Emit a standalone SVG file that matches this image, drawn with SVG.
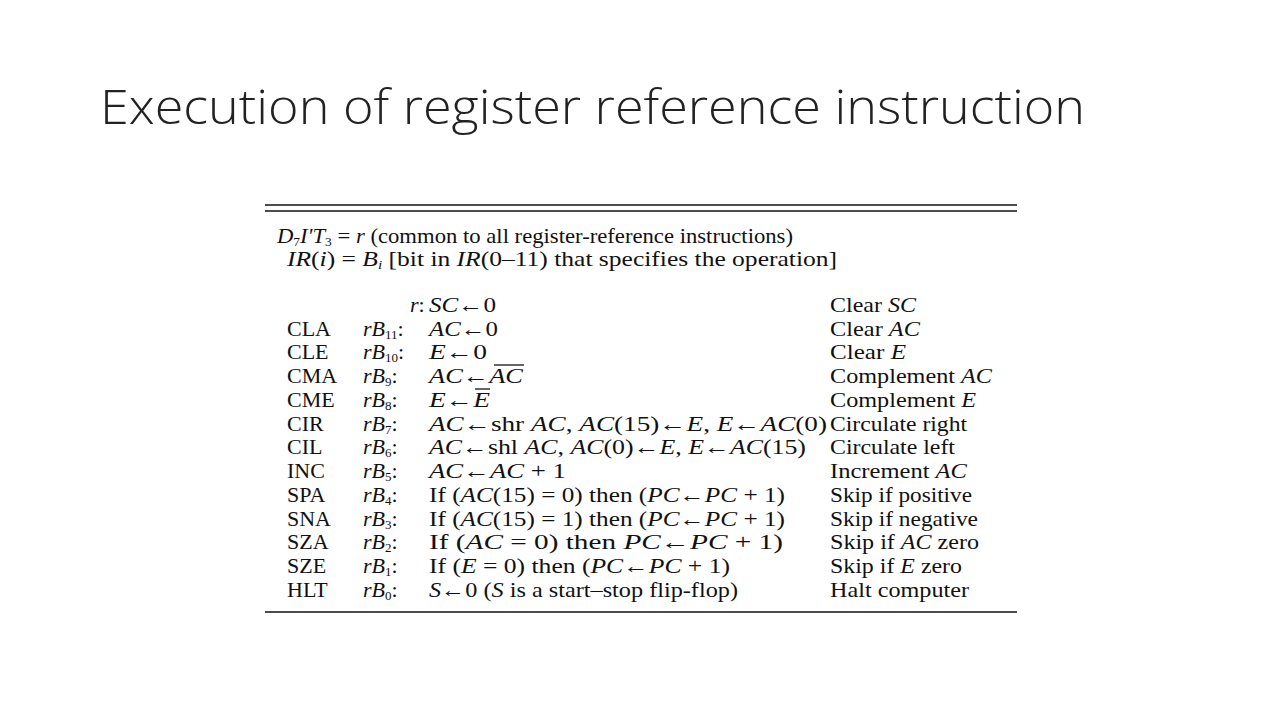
<svg xmlns="http://www.w3.org/2000/svg" width="1280" height="720" viewBox="0 0 1280 720">
<style>
.t{font-family:"Liberation Serif","Times New Roman",serif;font-size:22px;fill:#111}
.t text{}
.i{font-style:italic}
.s{font-size:13px}
.title{font-family:"Open Sans","Liberation Sans",sans-serif;font-weight:300;font-size:48px;fill:#222}
line{stroke:#111;stroke-width:1.6}
</style>
<rect width="1280" height="720" fill="#fff"/>
<text class="title" x="100" y="124" textLength="985" lengthAdjust="spacingAndGlyphs">Execution of register reference instruction</text>
<g id="rules">
<line x1="265" y1="205" x2="1017" y2="205"/>
<line x1="265" y1="211" x2="1017" y2="211"/>
<line x1="265" y1="612" x2="1017" y2="612"/>
</g>
<g id="header" class="t">
<text x="277" y="243" textLength="516" lengthAdjust="spacingAndGlyphs"><tspan class="i">D</tspan><tspan class="s" dy="3">7</tspan><tspan class="i" dy="-3">I'T</tspan><tspan class="s" dy="3">3</tspan><tspan dy="-3"> = </tspan><tspan class="i">r</tspan> (common to all register-reference instructions)</text>
<text x="287" y="266" textLength="550" lengthAdjust="spacingAndGlyphs"><tspan class="i">IR</tspan>(<tspan class="i">i</tspan>) = <tspan class="i">B</tspan><tspan class="s i" dy="3">i</tspan><tspan dy="-3"> [bit in </tspan><tspan class="i">IR</tspan>(0–11) that specifies the operation]</text>
</g>
<g id="col-mnemonic" class="t">
<text x="287" y="336">CLA</text><text x="287" y="359">CLE</text><text x="287" y="383">CMA</text><text x="287" y="407">CME</text><text x="287" y="431">CIR</text><text x="287" y="454">CIL</text><text x="287" y="478">INC</text><text x="287" y="502">SPA</text><text x="287" y="526">SNA</text><text x="287" y="549">SZA</text><text x="287" y="573">SZE</text><text x="287" y="597">HLT</text>
</g>
<g id="col-cond" class="t">
<text x="410" y="312"><tspan class="i">r</tspan>:</text>
<text x="363" y="336"><tspan class="i">rB</tspan><tspan class="s" dy="3">11</tspan><tspan dy="-3">:</tspan></text>
<text x="363" y="359"><tspan class="i">rB</tspan><tspan class="s" dy="3">10</tspan><tspan dy="-3">:</tspan></text>
<text x="363" y="383"><tspan class="i">rB</tspan><tspan class="s" dy="3">9</tspan><tspan dy="-3">:</tspan></text>
<text x="363" y="407"><tspan class="i">rB</tspan><tspan class="s" dy="3">8</tspan><tspan dy="-3">:</tspan></text>
<text x="363" y="431"><tspan class="i">rB</tspan><tspan class="s" dy="3">7</tspan><tspan dy="-3">:</tspan></text>
<text x="363" y="454"><tspan class="i">rB</tspan><tspan class="s" dy="3">6</tspan><tspan dy="-3">:</tspan></text>
<text x="363" y="478"><tspan class="i">rB</tspan><tspan class="s" dy="3">5</tspan><tspan dy="-3">:</tspan></text>
<text x="363" y="502"><tspan class="i">rB</tspan><tspan class="s" dy="3">4</tspan><tspan dy="-3">:</tspan></text>
<text x="363" y="526"><tspan class="i">rB</tspan><tspan class="s" dy="3">3</tspan><tspan dy="-3">:</tspan></text>
<text x="363" y="549"><tspan class="i">rB</tspan><tspan class="s" dy="3">2</tspan><tspan dy="-3">:</tspan></text>
<text x="363" y="573"><tspan class="i">rB</tspan><tspan class="s" dy="3">1</tspan><tspan dy="-3">:</tspan></text>
<text x="363" y="597"><tspan class="i">rB</tspan><tspan class="s" dy="3">0</tspan><tspan dy="-3">:</tspan></text>
</g>
<g id="col-op" class="t">
<text x="429" y="312" textLength="67" lengthAdjust="spacingAndGlyphs"><tspan class="i">SC</tspan>←0</text>
<text x="429" y="336" textLength="69" lengthAdjust="spacingAndGlyphs"><tspan class="i">AC</tspan>←0</text>
<text x="429" y="359" textLength="58" lengthAdjust="spacingAndGlyphs"><tspan class="i">E</tspan>←0</text>
<text x="429" y="383" textLength="94" lengthAdjust="spacingAndGlyphs"><tspan class="i">AC</tspan>←<tspan class="i">AC</tspan></text>
<line x1="494" y1="365" x2="524" y2="365" style="stroke-width:1.3"/>
<text x="429" y="407" textLength="61" lengthAdjust="spacingAndGlyphs"><tspan class="i">E</tspan>←<tspan class="i">E</tspan></text>
<line x1="475" y1="389" x2="490" y2="389" style="stroke-width:1.3"/>
<text x="429" y="431" textLength="398" lengthAdjust="spacingAndGlyphs"><tspan class="i">AC</tspan>←shr <tspan class="i">AC</tspan>, <tspan class="i">AC</tspan>(15)←<tspan class="i">E</tspan>, <tspan class="i">E</tspan>←<tspan class="i">AC</tspan>(0)</text>
<text x="429" y="454" textLength="377" lengthAdjust="spacingAndGlyphs"><tspan class="i">AC</tspan>←shl <tspan class="i">AC</tspan>, <tspan class="i">AC</tspan>(0)←<tspan class="i">E</tspan>, <tspan class="i">E</tspan>←<tspan class="i">AC</tspan>(15)</text>
<text x="429" y="478" textLength="137" lengthAdjust="spacingAndGlyphs"><tspan class="i">AC</tspan>←<tspan class="i">AC</tspan> + 1</text>
<text x="429" y="502" textLength="356" lengthAdjust="spacingAndGlyphs">If (<tspan class="i">AC</tspan>(15) = 0) then (<tspan class="i">PC</tspan>←<tspan class="i">PC</tspan> + 1)</text>
<text x="429" y="526" textLength="356" lengthAdjust="spacingAndGlyphs">If (<tspan class="i">AC</tspan>(15) = 1) then (<tspan class="i">PC</tspan>←<tspan class="i">PC</tspan> + 1)</text>
<text x="429" y="549" textLength="354" lengthAdjust="spacingAndGlyphs">If (<tspan class="i">AC</tspan> = 0) then <tspan class="i">PC</tspan>←<tspan class="i">PC</tspan> + 1)</text>
<text x="429" y="573" textLength="301" lengthAdjust="spacingAndGlyphs">If (<tspan class="i">E</tspan> = 0) then (<tspan class="i">PC</tspan>←<tspan class="i">PC</tspan> + 1)</text>
<text x="429" y="597" textLength="309" lengthAdjust="spacingAndGlyphs"><tspan class="i">S</tspan>←0 (<tspan class="i">S</tspan> is a start–stop flip-flop)</text>
</g>
<g id="col-desc" class="t">
<text x="830" y="312" textLength="86" lengthAdjust="spacingAndGlyphs">Clear <tspan class="i">SC</tspan></text>
<text x="830" y="336" textLength="90" lengthAdjust="spacingAndGlyphs">Clear <tspan class="i">AC</tspan></text>
<text x="830" y="359" textLength="76" lengthAdjust="spacingAndGlyphs">Clear <tspan class="i">E</tspan></text>
<text x="830" y="383" textLength="162" lengthAdjust="spacingAndGlyphs">Complement <tspan class="i">AC</tspan></text>
<text x="830" y="407" textLength="146" lengthAdjust="spacingAndGlyphs">Complement <tspan class="i">E</tspan></text>
<text x="830" y="431" textLength="137" lengthAdjust="spacingAndGlyphs">Circulate right</text>
<text x="830" y="454" textLength="125" lengthAdjust="spacingAndGlyphs">Circulate left</text>
<text x="830" y="478" textLength="137" lengthAdjust="spacingAndGlyphs">Increment <tspan class="i">AC</tspan></text>
<text x="830" y="502" textLength="142" lengthAdjust="spacingAndGlyphs">Skip if positive</text>
<text x="830" y="526" textLength="148" lengthAdjust="spacingAndGlyphs">Skip if negative</text>
<text x="830" y="549" textLength="149" lengthAdjust="spacingAndGlyphs">Skip if <tspan class="i">AC</tspan> zero</text>
<text x="830" y="573" textLength="132" lengthAdjust="spacingAndGlyphs">Skip if <tspan class="i">E</tspan> zero</text>
<text x="830" y="597" textLength="139" lengthAdjust="spacingAndGlyphs">Halt computer</text>
</g>
</svg>
